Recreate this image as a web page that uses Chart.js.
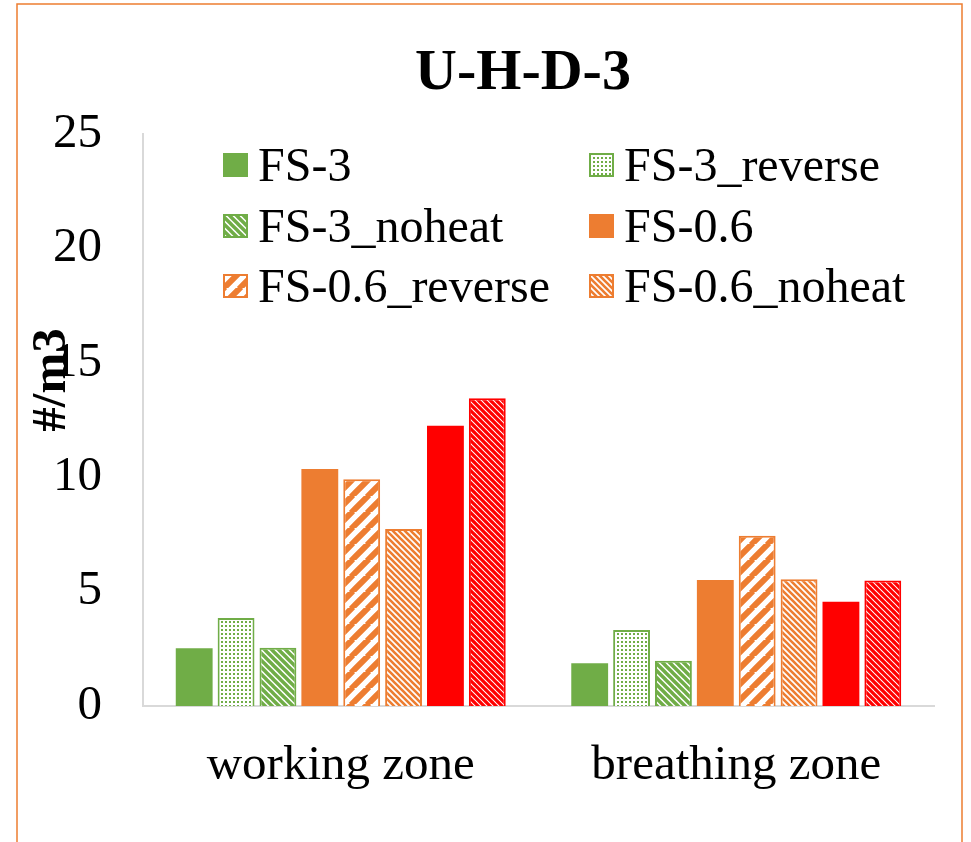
<!DOCTYPE html>
<html>
<head>
<meta charset="utf-8">
<title>U-H-D-3</title>
<script src="https://cdn.jsdelivr.net/npm/chart.js@4.4.1/dist/chart.umd.min.js"></script>
<style>
  body { margin: 0; background: #fff; }
  canvas { display: block; }
</style>
</head>
<body>
<canvas id="myChart" width="971" height="842"></canvas>
<script>
'use strict';

const categories = ['working zone', 'breathing zone'];
const fs3 = [2.52, 1.87];
const fs3Reverse = [3.85, 3.32];
const fs3Noheat = [2.55, 1.98];
const fs06 = [10.36, 5.51];
const fs06Reverse = [9.91, 7.44];
const fs06Noheat = [7.74, 5.54];
const fs06Red = [12.25, 4.56];
const fs06RedHatch = [13.45, 5.48];
const yTicks = [0, 5, 10, 15, 20, 25];

const GREEN = '#70AD47';
const ORANGE = '#ED7D31';
const RED = '#FF0000';
const SERIF = "'Liberation Serif', 'Times New Roman', serif";

// small canvas tiles used as bar fills
function stripes(color, size, width, dir) {
  let c = document.createElement('canvas');
  c.width = size;
  c.height = size;
  let g = c.getContext('2d');
  g.fillStyle = '#fff';
  g.fillRect(0, 0, size, size);
  g.strokeStyle = color;
  g.lineWidth = width;
  g.beginPath();
  for (let off = -size; off <= size; off += size) {
    if (dir === 'down') {
      g.moveTo(off - 1, -1);
      g.lineTo(off + size + 1, size + 1);
    } else {
      g.moveTo(off - 1, size + 1);
      g.lineTo(off + size + 1, -1);
    }
  }
  g.stroke();
  return g.createPattern(c, 'repeat');
}

function dots(color) {
  let c = document.createElement('canvas');
  c.width = 4;
  c.height = 4;
  let g = c.getContext('2d');
  g.fillStyle = '#fff';
  g.fillRect(0, 0, 4, 4);
  g.fillStyle = color;
  g.fillRect(1, 1, 2, 2);
  return g.createPattern(c, 'repeat');
}

const series = [
  { label: 'FS-3', data: fs3, fill: GREEN, line: GREEN, border: 0, legend: true },
  { label: 'FS-3_reverse', data: fs3Reverse, fill: dots(GREEN), line: GREEN, border: 2, legend: true },
  { label: 'FS-3_noheat', data: fs3Noheat, fill: stripes(GREEN, 7, 3.4, 'down'), line: GREEN, border: 2, legend: true },
  { label: 'FS-0.6', data: fs06, fill: ORANGE, line: ORANGE, border: 0, legend: true },
  { label: 'FS-0.6_reverse', data: fs06Reverse, fill: stripes(ORANGE, 16, 6, 'up'), line: ORANGE, border: 2, legend: true },
  { label: 'FS-0.6_noheat', data: fs06Noheat, fill: stripes(ORANGE, 6, 2.6, 'down'), line: ORANGE, border: 2, legend: true },
  { label: 'FS-0.6 (red)', data: fs06Red, fill: RED, line: RED, border: 0, legend: false },
  { label: 'FS-0.6_noheat (red)', data: fs06RedHatch, fill: stripes(RED, 6, 3.2, 'down'), line: RED, border: 2, legend: false }
];

// legend slots: two columns, three rows
const legendCols = [223, 589];
const legendRows = [165, 226, 286];

const decorPlugin = {
  id: 'decor',
  beforeDraw(chart) {
    const ctx = chart.ctx;
    ctx.save();
    ctx.strokeStyle = ORANGE;
    ctx.lineWidth = 1.5;
    ctx.beginPath();
    ctx.moveTo(17, 850);
    ctx.lineTo(17, 4);
    ctx.lineTo(962, 4);
    ctx.lineTo(962, 850);
    ctx.stroke();
    ctx.restore();
  },
  afterDraw(chart) {
    const ctx = chart.ctx;
    ctx.save();
    ctx.fillStyle = '#000';

    // title
    ctx.font = 'bold 58px ' + SERIF;
    ctx.textAlign = 'center';
    ctx.textBaseline = 'middle';
    ctx.fillText('U-H-D-3', 523, 74);

    // y axis title
    ctx.save();
    ctx.translate(52, 380);
    ctx.rotate(-Math.PI / 2);
    ctx.font = 'bold 49px ' + SERIF;
    ctx.fillText('#/m3', 0, 0);
    ctx.restore();

    // legend
    let shown = series.filter(s => s.legend);
    ctx.font = '48px ' + SERIF;
    ctx.textAlign = 'left';
    ctx.textBaseline = 'middle';
    for (let i = 0; i < shown.length; i++) {
      let s = shown[i];
      let x = legendCols[i % 2];
      let y = legendRows[Math.floor(i / 2)];
      ctx.fillStyle = s.fill;
      ctx.fillRect(x, y - 12, 25, 24);
      if (s.border) {
        ctx.strokeStyle = s.line;
        ctx.lineWidth = 2;
        ctx.strokeRect(x + 1, y - 11, 23, 22);
      }
      ctx.fillStyle = '#000';
      ctx.fillText(s.label, x + 35, y + 3);
    }
    ctx.restore();
  }
};

const ctx = document.getElementById('myChart');

let config = {
  type: 'bar',
  data: {
    labels: categories,
    datasets: series.map(s => ({
      label: s.label,
      data: s.data,
      backgroundColor: s.fill,
      borderColor: s.line,
      borderWidth: s.border,
      categoryPercentage: 0.847,
      barPercentage: 0.88
    }))
  },
  options: {
    responsive: false,
    animation: false,
    devicePixelRatio: 1,
    layout: {
      padding: { top: 134, right: 37, bottom: 0, left: 0 }
    },
    plugins: {
      legend: { display: false },
      title: { display: false },
      tooltip: { enabled: false }
    },
    scales: {
      x: {
        grid: { display: false, drawTicks: false },
        border: { color: '#d9d9d9', width: 2 },
        ticks: {
          color: '#000',
          padding: 31,
          font: { family: SERIF, size: 49 }
        },
        afterFit(scale) { scale.height = 136; }
      },
      y: {
        min: 0,
        max: 25,
        afterBuildTicks(scale) { scale.ticks = yTicks.map(v => ({ value: v })); },
        grid: { display: false, drawTicks: false },
        border: { color: '#d9d9d9', width: 2 },
        ticks: {
          color: '#000',
          padding: 41,
          font: { family: SERIF, size: 49 }
        },
        afterFit(scale) { scale.width = 143; }
      }
    }
  },
  plugins: [decorPlugin]
};

new Chart(ctx, config);
</script>
</body>
</html>
